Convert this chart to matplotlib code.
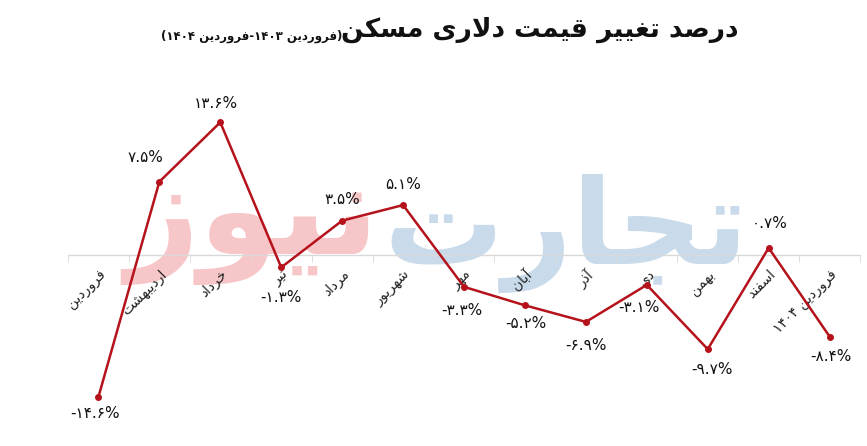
import re
import matplotlib
matplotlib.use("Agg")
import matplotlib.pyplot as plt
from matplotlib.ticker import FixedLocator

# ---------------- data ----------------
months = ["فروردین", "اردیبهشت", "خرداد", "تیر", "مرداد", "شهریور", "مهر",
          "آبان", "آذر", "دی", "بهمن", "اسفند", "فروردین ۱۴۰۴"]
values = [-14.6, 7.5, 13.6, -1.3, 3.5, 5.1, -3.3, -5.2, -6.9, -3.1, -9.7, 0.7, -8.4]
value_labels = ["-۱۴.۶%", "۷.۵%", "۱۳.۶%", "-۱.۳%", "۳.۵%", "۵.۱%", "-۳.۳%",
                "-۵.۲%", "-۶.۹%", "-۳.۱%", "-۹.۷%", "۰.۷%", "-۸.۴%"]
title = "درصد تغییر قیمت دلاری مسکن"
subtitle = "(فروردین ۱۴۰۳-فروردین ۱۴۰۴)"
wm_right = "تجارت"
wm_left = "نیوز"

# ---------------- minimal Persian shaping ----------------
FORMS = {
    '\u0627': ('\uFE8D', '\uFE8E', None, None),
    '\u0622': ('\uFE81', '\uFE82', None, None),
    '\u0628': ('\uFE8F', '\uFE90', '\uFE91', '\uFE92'),
    '\u062A': ('\uFE95', '\uFE96', '\uFE97', '\uFE98'),
    '\u062C': ('\uFE9D', '\uFE9E', '\uFE9F', '\uFEA0'),
    '\u062E': ('\uFEA5', '\uFEA6', '\uFEA7', '\uFEA8'),
    '\u062F': ('\uFEA9', '\uFEAA', None, None),
    '\u0630': ('\uFEAB', '\uFEAC', None, None),
    '\u0631': ('\uFEAD', '\uFEAE', None, None),
    '\u0632': ('\uFEAF', '\uFEB0', None, None),
    '\u0633': ('\uFEB1', '\uFEB2', '\uFEB3', '\uFEB4'),
    '\u0634': ('\uFEB5', '\uFEB6', '\uFEB7', '\uFEB8'),
    '\u0635': ('\uFEB9', '\uFEBA', '\uFEBB', '\uFEBC'),
    '\u063A': ('\uFECD', '\uFECE', '\uFECF', '\uFED0'),
    '\u0641': ('\uFED1', '\uFED2', '\uFED3', '\uFED4'),
    '\u0642': ('\uFED5', '\uFED6', '\uFED7', '\uFED8'),
    '\u0644': ('\uFEDD', '\uFEDE', '\uFEDF', '\uFEE0'),
    '\u0645': ('\uFEE1', '\uFEE2', '\uFEE3', '\uFEE4'),
    '\u0646': ('\uFEE5', '\uFEE6', '\uFEE7', '\uFEE8'),
    '\u0647': ('\uFEE9', '\uFEEA', '\uFEEB', '\uFEEC'),
    '\u0648': ('\uFEED', '\uFEEE', None, None),
    '\u06A9': ('\uFB8E', '\uFB8F', '\uFB90', '\uFB91'),
    '\u06CC': ('\uFBFC', '\uFBFD', '\uFBFE', '\uFBFF'),
}
LAMALEF = {'\u0627': ('\uFEFB', '\uFEFC'), '\u0622': ('\uFEF5', '\uFEF6')}


def dual(c):
    return c in FORMS and FORMS[c][2] is not None


def shape(s):
    res = []
    n = len(s)
    i = 0
    while i < n:
        c = s[i]
        prev = i > 0 and dual(s[i - 1])
        if c == '\u0644' and i + 1 < n and s[i + 1] in LAMALEF:
            res.append(LAMALEF[s[i + 1]][1 if prev else 0])
            i += 2
            continue
        if c in FORMS:
            f = FORMS[c]
            nxt = f[2] is not None and i + 1 < n and s[i + 1] in FORMS
            if prev and nxt:
                res.append(f[3])
            elif prev:
                res.append(f[1])
            elif nxt:
                res.append(f[2])
            else:
                res.append(f[0])
        else:
            res.append(c)
        i += 1
    return ''.join(res)


MIRROR = str.maketrans("()", ")(")


def rtl(s):
    sh = shape(s)
    runs = re.findall(r'[\u06F0-\u06F90-9.]+|[^\u06F0-\u06F90-9.]+', sh)
    out = []
    for r in reversed(runs):
        if re.fullmatch(r'[\u06F0-\u06F90-9.]+', r):
            out.append(r)
        else:
            out.append(r[::-1].translate(MIRROR))
    return ''.join(out)


# ---------------- figure ----------------
plt.rcParams['font.family'] = ['DejaVu Sans']
fig = plt.figure(figsize=(8.67, 4.46), dpi=100)
fig.patch.set_facecolor('white')
ax = fig.add_axes([0.0784, 0.0359, 0.9136, 0.8296])
ax.set_xlim(-0.5, 12.5)
ax.set_ylim(-18, 20)

# watermark
ax.text(0.628, 0.53, rtl(wm_right), transform=ax.transAxes, ha='center', va='center',
        fontsize=86, fontweight='bold', color='#c9dbeb', zorder=0)
ax.text(0.232, 0.56, rtl(wm_left), transform=ax.transAxes, ha='center', va='center',
        fontsize=92, fontweight='bold', color='#f7c6c8', zorder=0)

for s in ['left', 'right', 'top']:
    ax.spines[s].set_visible(False)
ax.spines['bottom'].set_position(('data', 0))
ax.spines['bottom'].set_color('#d9d9d9')
ax.spines['bottom'].set_linewidth(1.0)
ax.spines['bottom'].set_zorder(1)
ax.set_yticks([])

x = list(range(len(values)))
ax.set_xticks(x)
ax.set_xticklabels([rtl(m) for m in months], rotation=45, ha='right', va='top',
                   rotation_mode='anchor', fontsize=10, color='#222222')
ax.tick_params(axis='x', which='major', length=0, pad=9)
ax.xaxis.set_minor_locator(FixedLocator([i - 0.5 for i in range(len(values) + 1)]))
ax.tick_params(axis='x', which='minor', length=5, color='#d9d9d9', direction='out')

ax.plot(x, values, color='#b5121b', linewidth=1.8, marker='o', markersize=4,
        zorder=5)

offsets = [(-3, -17), (-14, 24), (-4, 19), (0, -30), (0, 21), (0, 21), (-2, -24),
           (1, -18), (0, -24), (-8, -23), (4, -20), (1, 24), (1, -20)]
for xi, v, lab, off in zip(x, values, value_labels, offsets):
    ax.annotate(lab, (xi, v), xytext=off, textcoords='offset pixels',
                ha='center', va='center', fontsize=11, color='#111111', zorder=6)

fig.text(0.623, 0.932, rtl(title), ha='center', va='center', fontsize=19,
         fontweight='bold', color='#111111')
fig.text(0.29, 0.918, rtl(subtitle), ha='center', va='center', fontsize=8.5,
         fontweight='bold', color='#111111')

fig.savefig('out.png', dpi=100, facecolor='white')
